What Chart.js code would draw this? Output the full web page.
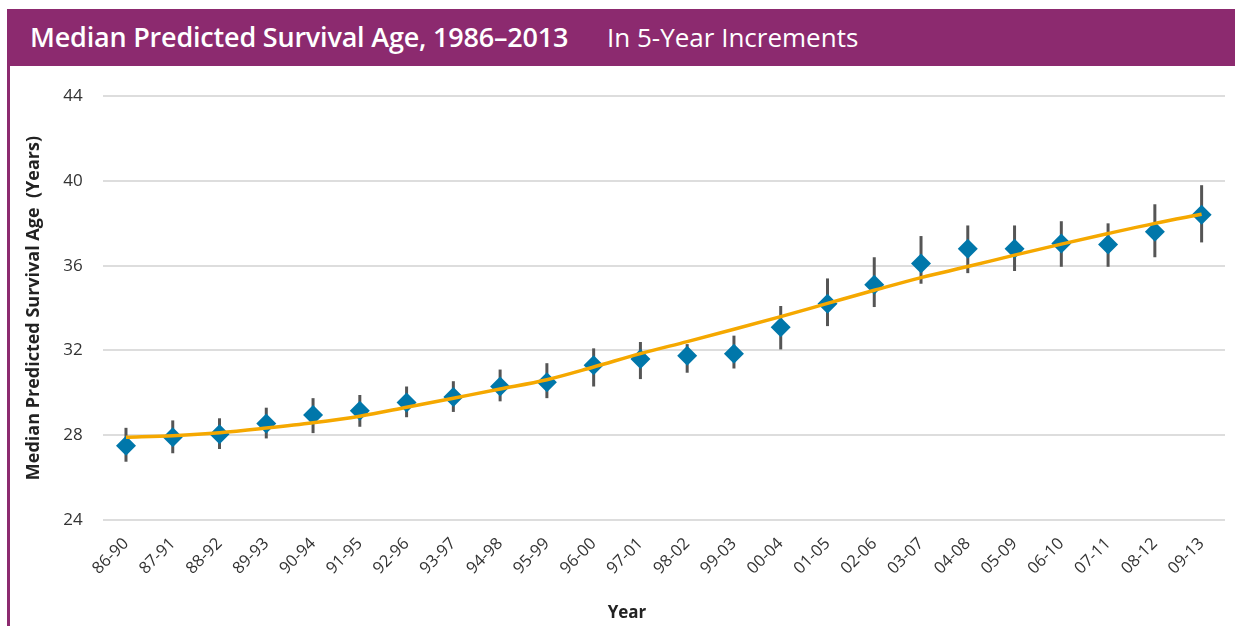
<!DOCTYPE html>
<html>
<head>
<meta charset="utf-8">
<script src="https://cdn.jsdelivr.net/npm/chart.js@4"></script>
<style>
  body { margin: 0; background: #fff; font-family: "Open Sans", Lato, sans-serif; }
  #frame { position: absolute; left: 7px; top: 9px; width: 1228px; height: 617px; border-left: 3px solid #8c2a6f; }
  #header { position: absolute; left: 7px; top: 9px; width: 1228px; height: 57px; background: #8c2a6f; color: #fff; }
  #header .main { position: absolute; left: 23px; top: 9px; font-size: 27px; font-weight: 600; letter-spacing: -0.2px; }
  #header .sub { position: absolute; left: 600px; top: 10px; font-size: 26px; }
  #wrap { position: absolute; left: 10px; top: 66px; width: 1225px; height: 560px; }
  #xTitle { position: absolute; left: 627px; top: 600px; transform: translateX(-50%); font-size: 17px; font-weight: bold; color: #222; }
</style>
</head>
<body>
<div id="frame"></div>
<div id="header"><span class="main">Median Predicted Survival Age, 1986–2013</span><span class="sub">In 5-Year Increments</span></div>
<div id="wrap"><canvas id="survivalChart"></canvas></div>
<div id="xTitle">Year</div>
<script>
// Periods (5-year windows)
const periods = ['86-90', '87-91', '88-92', '89-93', '90-94', '91-95', '92-96', '93-97', '94-98', '95-99',
  '96-00', '97-01', '98-02', '99-03', '00-04', '01-05', '02-06', '03-07', '04-08', '05-09',
  '06-10', '07-11', '08-12', '09-13'];

// Median predicted survival age (diamonds)
const medianAge = [27.5, 27.9, 28.05, 28.55, 28.95, 29.15, 29.55, 29.8, 30.3, 30.5,
  31.3, 31.6, 31.75, 31.85, 33.1, 34.2, 35.1, 36.1, 36.8, 36.8,
  37.05, 37.0, 37.6, 38.4];

// Confidence interval ends
const ciLow = [26.75, 27.15, 27.35, 27.85, 28.1, 28.4, 28.85, 29.1, 29.6, 29.75,
  30.3, 30.65, 30.95, 31.15, 32.05, 33.15, 34.05, 35.15, 35.65, 35.75,
  35.95, 35.95, 36.4, 37.1];
const ciHigh = [28.35, 28.7, 28.8, 29.3, 29.75, 29.9, 30.3, 30.55, 31.1, 31.4,
  32.1, 32.4, 32.3, 32.7, 34.1, 35.4, 36.4, 37.4, 37.9, 37.9,
  38.1, 38.0, 38.9, 39.8];

// Fitted trend
const trend = [27.9, 27.98, 28.12, 28.34, 28.59, 28.9, 29.32, 29.75, 30.18, 30.62,
  31.22, 31.85, 32.42, 33.0, 33.6, 34.22, 34.84, 35.44, 35.96, 36.5,
  37.02, 37.52, 38.0, 38.43];

const yTicks = [24, 28, 32, 36, 40, 44];

const errorBarPlugin = {
  id: 'errorBars',
  beforeDatasetsDraw(chart) {
    const { ctx, scales: { x, y } } = chart;
    ctx.save();
    ctx.strokeStyle = '#555555';
    ctx.lineWidth = 3;
    periods.forEach((p, i) => {
      const px = x.getPixelForValue(i);
      ctx.beginPath();
      ctx.moveTo(px, y.getPixelForValue(ciHigh[i]));
      ctx.lineTo(px, y.getPixelForValue(ciLow[i]));
      ctx.stroke();
    });
    ctx.restore();
  }
};

new Chart(document.getElementById('survivalChart'), {
  type: 'line',
  data: {
    labels: periods,
    datasets: [{
      label: 'Trend',
      data: trend,
      borderColor: '#f5a800',
      borderWidth: 3.5,
      pointRadius: 0,
      cubicInterpolationMode: 'monotone',
      order: 0
    }, {
      label: 'Median',
      data: medianAge,
      showLine: false,
      pointStyle: 'rectRot',
      pointRadius: 10,
      pointBackgroundColor: '#0077aa',
      pointBorderWidth: 0,
      order: 1
    }]
  },
  options: {
    responsive: true,
    maintainAspectRatio: false,
    animation: false,
    layout: { padding: { top: 30, right: 9.6, bottom: 0, left: 0 } },
    plugins: {
      legend: { display: false },
      tooltip: { enabled: false }
    },
    scales: {
      x: {
        offset: true,
        grid: { display: false, drawTicks: false },
        border: { display: false },
        ticks: {
          minRotation: 45,
          maxRotation: 45,
          padding: 14,
          color: '#333',
          font: { family: '"Open Sans", Lato, sans-serif', size: 16.5 }
        },
        afterFit: (scale) => { scale.height = 106; }
      },
      y: {
        min: 24,
        max: 44,
        grid: { color: '#dddddd', lineWidth: 2, drawTicks: false },
        border: { display: false },
        afterBuildTicks: (scale) => { scale.ticks = yTicks.map(v => ({ value: v })); },
        ticks: {
          padding: 20,
          color: '#333',
          font: { family: '"Open Sans", Lato, sans-serif', size: 17 }
        },
        title: {
          display: true,
          text: 'Median Predicted Survival Age  (Years)',
          color: '#222',
          padding: { top: 13, bottom: 4 },
          font: { family: '"Open Sans", Lato, sans-serif', size: 18, weight: 'bold' }
        },
        afterFit: (scale) => { scale.width = 92.6; }
      }
    }
  },
  plugins: [errorBarPlugin]
});
</script>
</body>
</html>
